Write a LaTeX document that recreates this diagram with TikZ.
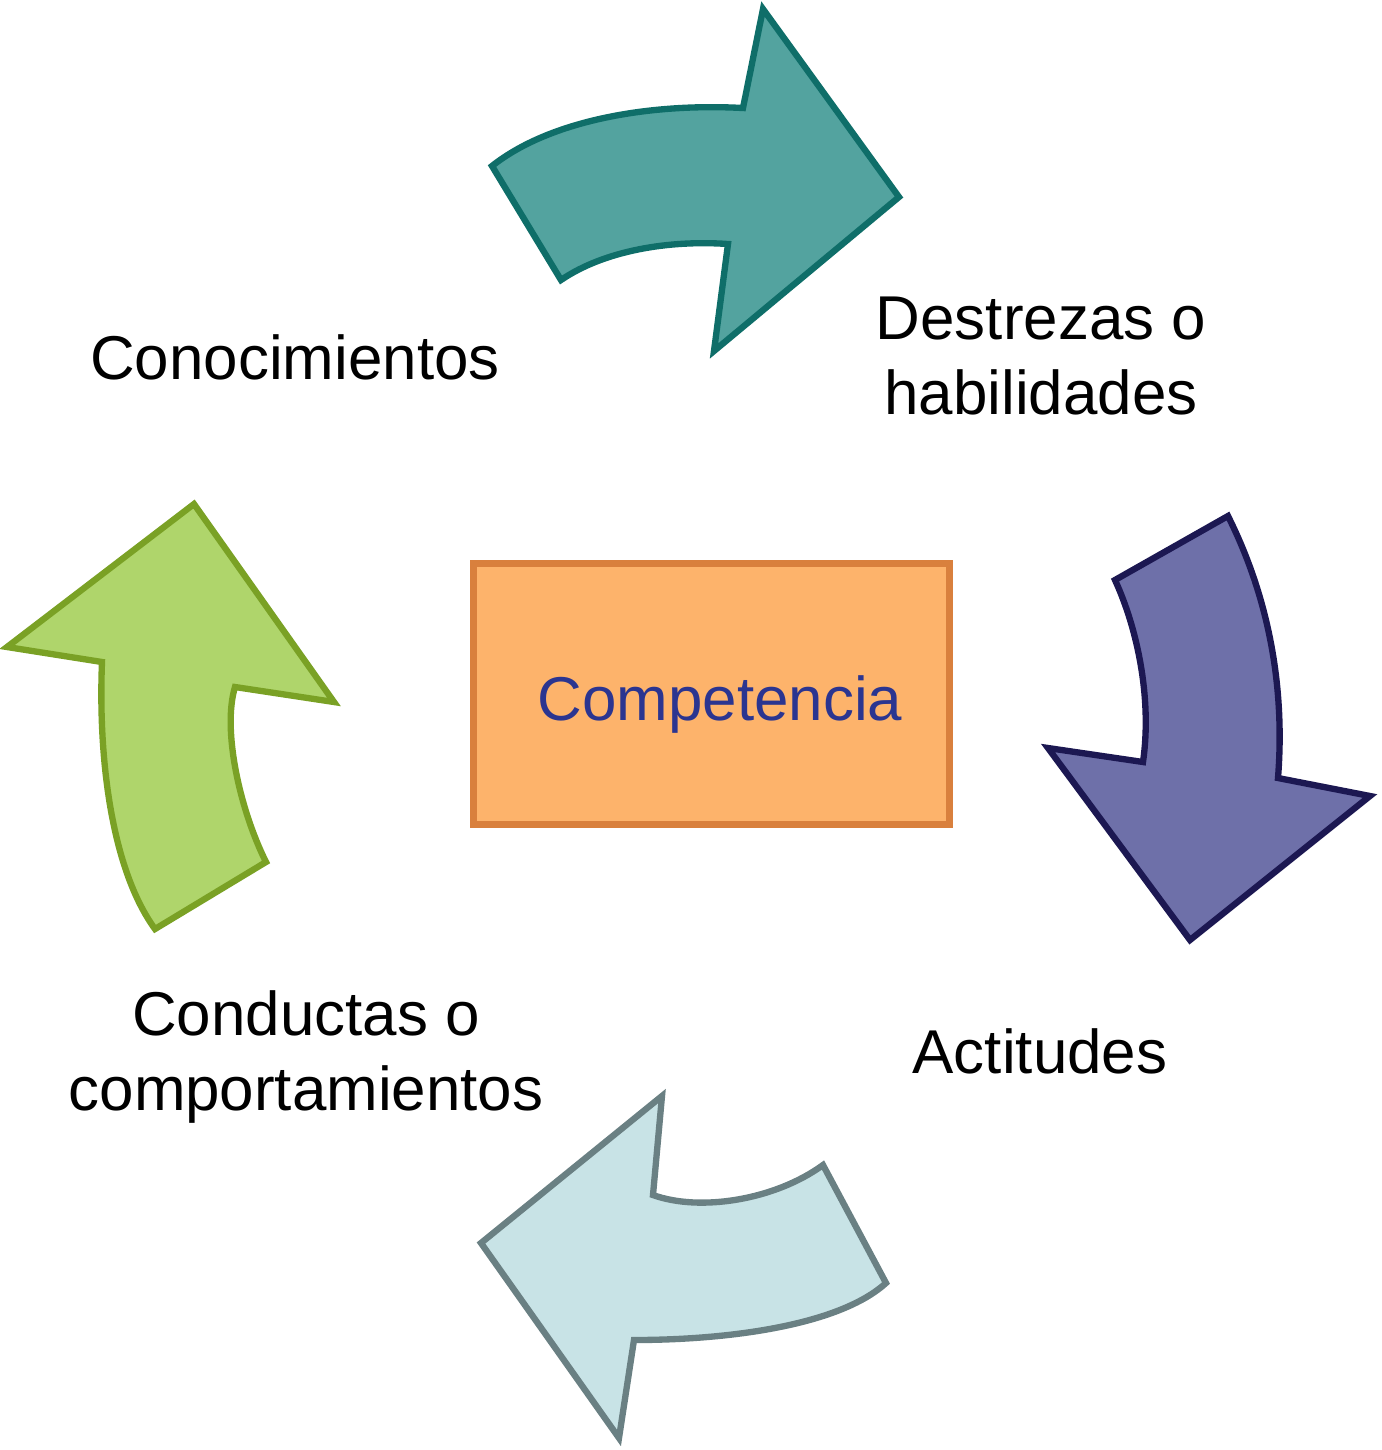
\documentclass[tikz,border=0pt]{standalone}
\usepackage{fontspec}
\setmainfont{Liberation Sans}
\usepackage{xcolor}
\usepackage{tikz}
\usetikzlibrary{arrows.meta,positioning}
\definecolor{tealfill}{HTML}{53A39F}
\definecolor{tealline}{HTML}{0F6E69}
\definecolor{purpfill}{HTML}{6E70A9}
\definecolor{purpline}{HTML}{1C1852}
\definecolor{icefill}{HTML}{C8E3E6}
\definecolor{iceline}{HTML}{6A8083}
\definecolor{leaffill}{HTML}{AFD56B}
\definecolor{leafline}{HTML}{7AA125}
\definecolor{boxfill}{HTML}{FDB36B}
\definecolor{boxline}{HTML}{D9803D}
\definecolor{compblue}{HTML}{2B3590}

\begin{document}
\begin{tikzpicture}[
    x=0.01cm, y=-0.01cm,
    blk/.style={line width=1.8pt, line join=miter},
    lbl/.style={font=\fontsize{17.6}{21.3}\selectfont, align=center, inner sep=0pt},
    compbox/.style={draw=boxline, fill=boxfill, line width=1.9pt, minimum width=4.76cm, minimum height=2.61cm, inner sep=0pt}
]
\useasboundingbox (0,0) rectangle (1382,1450);

\draw[blk, draw=tealline, fill=tealfill] (492,166) .. controls (550,120) and (650,103) .. (743,108) -- (763,9) -- (899,197) -- (714,351) -- (728,244) .. controls (670,240) and (605,250) .. (561,280) -- cycle;
\draw[blk, draw=purpline, fill=purpfill] (1228,516) -- (1115,580) .. controls (1138,630) and (1152,700) .. (1143,762) -- (1048,748) -- (1190,940) -- (1370,796) -- (1278,778) .. controls (1285,690) and (1270,600) .. (1228,516) -- cycle;
\draw[blk, draw=iceline, fill=icefill] (823,1165) -- (886,1283) .. controls (840,1325) and (730,1340) .. (634,1340) -- (619,1438) -- (481,1243) -- (662,1096) -- (653,1195) .. controls (700,1212) and (775,1200) .. (823,1165) -- cycle;
\draw[blk, draw=leafline, fill=leaffill] (194,504) -- (7,647) -- (102,662) .. controls (98,760) and (112,870) .. (155,929) -- (266,862) .. controls (240,810) and (222,730) .. (235,687) -- (334,702) -- cycle;

\node[compbox] (comp) at (711.5,694) {};
\node[lbl, text=compblue] (comptxt) at (720,704) {Competencia};

\node[lbl] (conoc) at (295,357) {Conocimientos};
\node[lbl] (destr) at (1041,356) {Destrezas o\\habilidades};
\node[lbl] (actit) at (1040,1051) {Actitudes};
\node[lbl] (conduc) at (306,1057) {Conductas o\\comportamientos};
\end{tikzpicture}
\end{document}
